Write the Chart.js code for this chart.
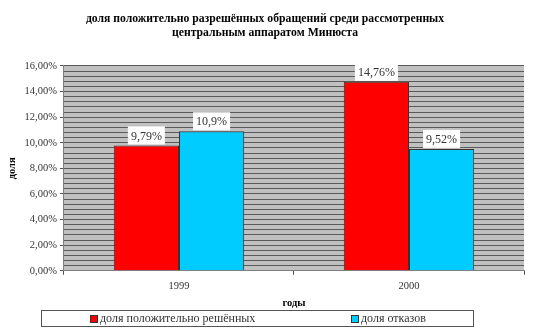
<!DOCTYPE html>
<html>
<head>
<meta charset="utf-8">
<script src="https://cdn.jsdelivr.net/npm/chart.js@4"></script>
<style>
  html, body { margin: 0; padding: 0; background: #fff; }
  #wrap { width: 533px; height: 332px; }
</style>
</head>
<body>
<div id="wrap"><canvas id="appealsChart" width="533" height="332"></canvas></div>
<script>
const years = ['1999', '2000'];
const resolvedShare = [9.79, 14.76];
const refusalShare = [10.9, 9.52];
const resolvedLabels = ['9,79%', '14,76%'];
const refusalLabels = ['10,9%', '9,52%'];

const serif = "'Liberation Serif', 'DejaVu Serif', serif";

// grey plot background
const plotBackground = {
    id: 'plotBackground',
    beforeDraw(chart) {
        const { ctx, chartArea: a } = chart;
        ctx.save();
        ctx.fillStyle = '#c0c0c0';
        ctx.fillRect(a.left, a.top, a.right - a.left, a.bottom - a.top);
        ctx.restore();
    }
};

// value labels in white boxes above each bar
const valueBoxes = {
    id: 'valueBoxes',
    afterDatasetsDraw(chart) {
        const ctx = chart.ctx;
        ctx.save();
        ctx.font = '12px ' + serif;
        ctx.textAlign = 'center';
        ctx.textBaseline = 'middle';
        chart.data.datasets.forEach((ds, i) => {
            chart.getDatasetMeta(i).data.forEach((bar, j) => {
                const text = ds.valueLabels[j];
                const w = ctx.measureText(text).width + 6;
                const h = 18;
                const x = bar.x - w / 2;
                const y = bar.y - h - 1;
                ctx.fillStyle = '#ffffff';
                ctx.fillRect(x, y, w, h);
                ctx.fillStyle = '#333333';
                ctx.fillText(text, bar.x, y + h / 2 + 1);
            });
        });
        ctx.restore();
    }
};

// boxed legend under the axis title
const boxedLegend = {
    id: 'boxedLegend',
    afterDraw(chart) {
        const ctx = chart.ctx;
        const top = 310, bottom = 326, left = 41, right = 473;
        const starts = [90, 351];
        ctx.save();
        ctx.fillStyle = '#ffffff';
        ctx.fillRect(left, top, right - left, bottom - top);
        ctx.strokeStyle = '#555555';
        ctx.lineWidth = 1;
        ctx.strokeRect(left + 0.5, top + 0.5, right - left, bottom - top);
        ctx.font = '12px ' + serif;
        ctx.textBaseline = 'middle';
        chart.data.datasets.forEach((ds, i) => {
            const cy = (top + bottom) / 2 + 1;
            ctx.fillStyle = ds.backgroundColor;
            ctx.fillRect(starts[i], cy - 4, 8, 8);
            ctx.strokeStyle = '#333333';
            ctx.strokeRect(starts[i] + 0.5, cy - 3.5, 7, 7);
            ctx.fillStyle = '#333333';
            ctx.fillText(ds.label, starts[i] + 10, cy);
        });
        ctx.restore();
    }
};

const isMajor = v => Math.abs(v / 2 - Math.round(v / 2)) < 1e-6;

new Chart(document.getElementById('appealsChart').getContext('2d'), {
    type: 'bar',
    data: {
        labels: years,
        datasets: [
            {
                label: 'доля положительно решённых',
                data: resolvedShare,
                valueLabels: resolvedLabels,
                backgroundColor: '#ff0000',
                borderColor: '#333333',
                borderWidth: 1,
                categoryPercentage: 0.567,
                barPercentage: 1
            },
            {
                label: 'доля отказов',
                data: refusalShare,
                valueLabels: refusalLabels,
                backgroundColor: '#00ccff',
                borderColor: '#333333',
                borderWidth: 1,
                categoryPercentage: 0.567,
                barPercentage: 1
            }
        ]
    },
    options: {
        responsive: false,
        animation: false,
        layout: { padding: { left: 6, right: 9, top: 0, bottom: 22 } },
        plugins: {
            legend: { display: false },
            tooltip: { enabled: false },
            title: {
                display: true,
                text: ['доля положительно разрешённых обращений среди рассмотренных', 'центральным аппаратом Минюста'],
                color: '#000000',
                font: { family: serif, size: 11.7, weight: 'bold', lineHeight: 1.28 },
                padding: { top: 11, bottom: 25 }
            }
        },
        scales: {
            x: {
                grid: { drawOnChartArea: false, tickLength: 4, color: '#555555' },
                border: { color: '#808080' },
                ticks: { color: '#333333', font: { family: serif, size: 10.5 }, padding: 5 },
                title: {
                    display: true,
                    text: 'годы',
                    color: '#000000',
                    font: { family: serif, size: 10.5, weight: 'bold' },
                    padding: { top: 0, bottom: 0 }
                }
            },
            y: {
                min: 0,
                max: 16,
                grid: {
                    color: '#5a5a5a',
                    tickLength: 4,
                    tickColor: ctx => isMajor(ctx.tick.value) ? '#555555' : 'rgba(0,0,0,0)'
                },
                border: { color: '#808080' },
                ticks: {
                    stepSize: 0.4,
                    autoSkip: false,
                    color: '#333333',
                    font: { family: serif, size: 10.5 },
                    padding: 3,
                    callback: v => isMajor(v) ? v.toFixed(2).replace('.', ',') + '%' : ''
                },
                title: {
                    display: true,
                    text: 'доля',
                    color: '#000000',
                    font: { family: serif, size: 10.5, weight: 'bold' },
                    padding: { top: 0, bottom: 3 }
                }
            }
        }
    },
    plugins: [plotBackground, valueBoxes, boxedLegend]
});
</script>
</body>
</html>
